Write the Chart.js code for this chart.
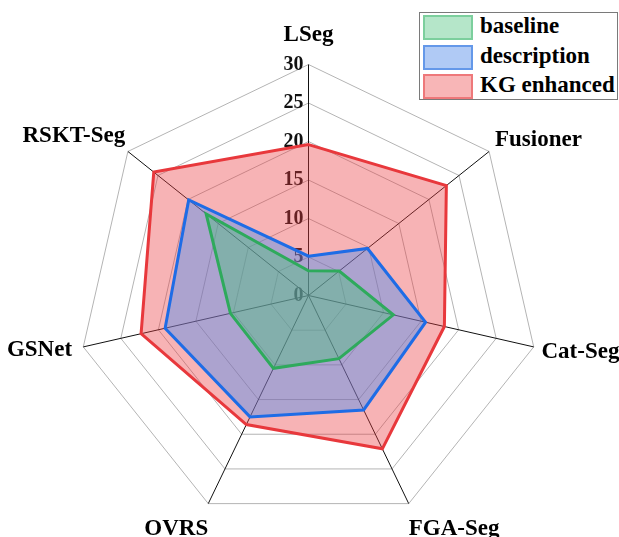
<!DOCTYPE html>
<html>
<head>
<meta charset="utf-8">
<script src="https://cdn.jsdelivr.net/npm/chart.js@4.4.1/dist/chart.umd.min.js"></script>
<style>
  html, body { margin: 0; padding: 0; background: #fff; }
  #wrap { position: relative; width: 619px; height: 537px; overflow: hidden; }
  #legend {
    position: absolute; left: 419px; top: 12px; width: 197px; height: 86px;
    border: 1px solid #7a7a7a; background: #fff;
    font: bold 23px "Liberation Serif", "Times New Roman", serif; color: #000;
  }
  .item { position: absolute; left: 3px; height: 26px; }
  .sw { position: absolute; left: 0; top: 0; width: 46px; height: 21px; border: 2px solid; }
  .lb { position: absolute; left: 57px; top: -3px; white-space: nowrap; line-height: 28px; }
</style>
</head>
<body>
<div id="wrap">
  <canvas id="c" width="619" height="537"></canvas>
  <div id="legend"></div>
</div>
<script>
const categories = ["LSeg", "Fusioner", "Cat-Seg", "FGA-Seg", "OVRS", "GSNet", "RSKT-Seg"];
const seriesNames = ["baseline", "description", "KG enhanced"];
const baseline    = [3.2, 5.1, 11.3, 9.1, 10.5, 10.4, 17.0];
const description = [5.1, 9.8, 15.6, 16.5, 17.5, 19.1, 19.9];
const kgEnhanced  = [19.6, 22.9, 18.1, 22.1, 18.6, 22.3, 25.7];
const tickValues  = [0, 5, 10, 15, 20, 25, 30];

// styling
const lineColors = ["rgb(46,170,92)", "rgb(30,108,230)", "rgb(232,56,60)"];
const fillColors = ["rgba(70,192,120,0.4)", "rgba(60,140,245,0.4)", "rgba(235,59,64,0.39)"];
const swatchFill = ["rgb(181,230,201)", "rgb(176,202,245)", "rgb(248,182,183)"];
const swatchLine = ["rgb(124,207,157)", "rgb(100,152,233)", "rgb(238,120,122)"];
const labelPadding    = [9, -2.5, -2, -10, -10, 1.5, -6.5];
const labelLineHeight = [21, 13, 7, 51, 51, 1, 27];
const radarGeometry = { xCenter: 308.5, yCenter: 295.5, radius: 231 };

const serif = '"Liberation Serif", "Times New Roman", serif';
const seriesValues = [baseline, description, kgEnhanced];
const tickText = v => String(v) + ' '.repeat(2 + 2 * String(v).length);

// draws the "0" tick at the scale centre (Chart.js skips the first tick when min is 0)
const zeroTick = {
  id: 'zeroTick',
  beforeDatasetsDraw(chart) {
    const s = chart.scales.r;
    const ctx = chart.ctx;
    ctx.save();
    ctx.font = 'bold 20px ' + serif;
    ctx.fillStyle = '#111';
    ctx.textAlign = 'center';
    ctx.textBaseline = 'middle';
    ctx.fillText(tickText(tickValues[0]), s.xCenter, s.yCenter - s.getDistanceFromCenterForValue(tickValues[0]));
    ctx.restore();
  }
};

new Chart(document.getElementById('c'), {
  type: 'radar',
  data: {
    labels: categories,
    datasets: seriesNames.map((n, i) => ({
      label: n,
      data: seriesValues[i],
      borderColor: lineColors[i],
      backgroundColor: fillColors[i],
      borderWidth: 3,
      pointRadius: 0,
      fill: true,
      tension: 0
    }))
  },
  options: {
    responsive: false,
    animation: false,
    plugins: { legend: { display: false }, tooltip: { enabled: false } },
    scales: {
      r: {
        min: tickValues[0],
        max: tickValues[tickValues.length - 1],
        afterSetDimensions(scale) {
          // fix the radar's centre and radius, and leave room so label fitting does not shrink it
          scale.xCenter = radarGeometry.xCenter;
          scale.yCenter = radarGeometry.yCenter;
          scale.drawingArea = radarGeometry.radius;
          scale.left = -10000; scale.right = 10000;
          scale.top = -10000; scale.bottom = 10000;
        },
        ticks: {
          stepSize: tickValues[1] - tickValues[0],
          showLabelBackdrop: false,
          backdropPadding: 0,
          color: '#111',
          font: { family: serif, size: 20, weight: 'bold' },
          callback: v => tickText(v)
        },
        grid: { color: '#b4b4b4', lineWidth: 1 },
        angleLines: { color: '#111', lineWidth: 1 },
        pointLabels: {
          color: '#000',
          padding: ctx => labelPadding[ctx.index],
          font: ctx => ({ family: serif, size: 23, weight: 'bold', lineHeight: labelLineHeight[ctx.index] + 'px' })
        }
      }
    }
  },
  plugins: [zeroTick]
});

// legend built from the series definitions
const lg = document.getElementById('legend');
const rowTops = [2, 32, 61];
seriesNames.forEach((n, i) => {
  const it = document.createElement('div');
  it.className = 'item';
  it.style.top = rowTops[i] + 'px';
  const sw = document.createElement('div');
  sw.className = 'sw';
  sw.style.background = swatchFill[i];
  sw.style.borderColor = swatchLine[i];
  const lb = document.createElement('div');
  lb.className = 'lb';
  lb.textContent = n;
  it.appendChild(sw); it.appendChild(lb);
  lg.appendChild(it);
});
</script>
</body>
</html>
